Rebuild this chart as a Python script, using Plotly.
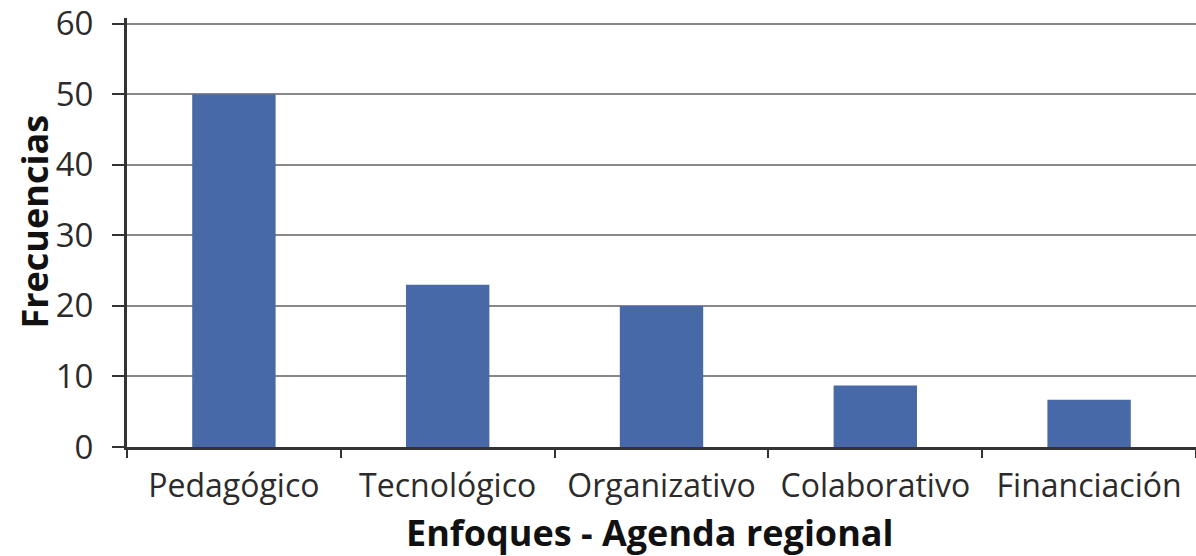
import plotly.graph_objects as go

# Frecuencias por enfoque de la agenda regional
enfoques = ["Pedagógico", "Tecnológico", "Organizativo", "Colaborativo", "Financiación"]
frecuencias = [50, 23, 20, 8.7, 6.7]
y_ticks = [0, 10, 20, 30, 40, 50, 60]

bar_color = "#4869a8"
axis_color = "#333333"
grid_color = "#888888"
label_font = "Open Sans, sans-serif"
title_font = dict(size=36, family=label_font, color="#111111", weight="bold")

fig = go.Figure()
fig.add_trace(go.Bar(
    x=enfoques,
    y=frecuencias,
    marker=dict(color=bar_color, line=dict(width=0)),
    width=0.39,
    hoverinfo="x+y",
))

# soft drop shadow under the x axis and left of the y axis
shadow = []
for i in range(10):
    shadow.append(dict(
        type="rect", layer="below",
        xref="x domain", x0=-0.01, x1=1.0,
        yref="y", ysizemode="pixel", yanchor=0,
        y0=-1, y1=-(2 + i * 2.2),
        fillcolor="rgba(120,120,120,0.045)", line=dict(width=0),
    ))
for i in range(8):
    shadow.append(dict(
        type="rect", layer="below",
        xref="x", xsizemode="pixel", xanchor=-0.5,
        x0=-1, x1=-(2 + i * 2.5),
        yref="y domain", y0=0.0, y1=1.0,
        fillcolor="rgba(120,120,120,0.02)", line=dict(width=0),
    ))

# axis titles
titles = [
    dict(text="Enfoques - Agenda regional", xref="paper", yref="paper",
         x=0.489, y=-0.2, xanchor="center", yanchor="middle",
         showarrow=False, font=title_font),
    dict(text="Frecuencias", xref="paper", yref="paper",
         x=-0.0861, y=0.5255, xanchor="center", yanchor="middle",
         textangle=-90, showarrow=False, font=title_font),
]

fig.update_layout(
    width=1196,
    height=556,
    margin=dict(l=127, r=0, t=15, b=109),
    paper_bgcolor="white",
    plot_bgcolor="white",
    showlegend=False,
    shapes=shadow,
    annotations=titles,
    font=dict(family=label_font, color="#2b2b2b"),
    xaxis=dict(
        range=[-0.5, 4.5],
        showline=True,
        linecolor=axis_color,
        linewidth=3,
        ticks="outside",
        tickson="boundaries",
        ticklen=8,
        tickwidth=2,
        tickcolor=axis_color,
        ticklabelstandoff=9,
        tickfont=dict(size=32, family=label_font, color="#2b2b2b"),
        showgrid=False,
        zeroline=False,
    ),
    yaxis=dict(
        range=[0, 60.8],
        tickvals=y_ticks,
        showline=True,
        linecolor=axis_color,
        linewidth=3,
        ticks="outside",
        ticklen=12,
        tickwidth=2,
        tickcolor=axis_color,
        ticklabelstandoff=12,
        ticklabeloverflow="allow",
        tickfont=dict(size=33, family=label_font, color="#2b2b2b"),
        showgrid=True,
        gridcolor=grid_color,
        gridwidth=2,
        zeroline=False,
    ),
)

fig.write_html("out.html")
